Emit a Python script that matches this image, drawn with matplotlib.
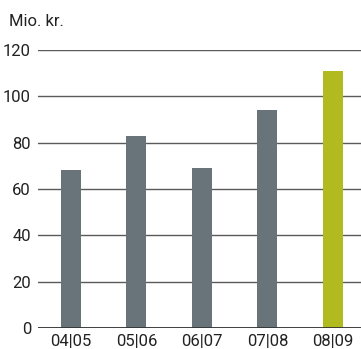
import matplotlib
matplotlib.use('Agg')
import matplotlib.pyplot as plt

periods = ['04|05', '05|06', '06|07', '07|08', '08|09']
values = [68, 83, 69, 94, 111]
colors = ['#69737a', '#69737a', '#69737a', '#69737a', '#b1bb1f']
yticks = [0, 20, 40, 60, 80, 100, 120]

plt.rcParams['font.family'] = ['Roboto', 'DejaVu Sans']

fig = plt.figure(figsize=(3.61, 3.49), dpi=100)
ax = fig.add_axes([38 / 361, 21 / 349, 1 - 38 / 361, 278 / 349])

x = range(len(periods))
ax.bar(x, values, width=0.305, color=colors, zorder=3)

ax.set_ylim(0, 120)
ax.set_xlim(-0.504, 4.43)
ax.set_yticks(yticks)
ax.set_xticks(list(x))
ax.set_xticklabels(periods)
ax.yaxis.grid(True, color='#5a5a5a', linewidth=1.0)
ax.axhline(0, color='#333333', linewidth=1.3, zorder=4)
ax.set_axisbelow(True)
for s in ax.spines.values():
    s.set_visible(False)
ax.tick_params(length=0, labelsize=12, colors='#222222')
ax.tick_params(axis='y', pad=5)
ax.tick_params(axis='x', pad=4)

fig.text(9 / 361, 1 - 22 / 349, 'Mio. kr.', fontsize=12, color='#222222', va='center', ha='left')

fig.savefig('out.png', dpi=100)
